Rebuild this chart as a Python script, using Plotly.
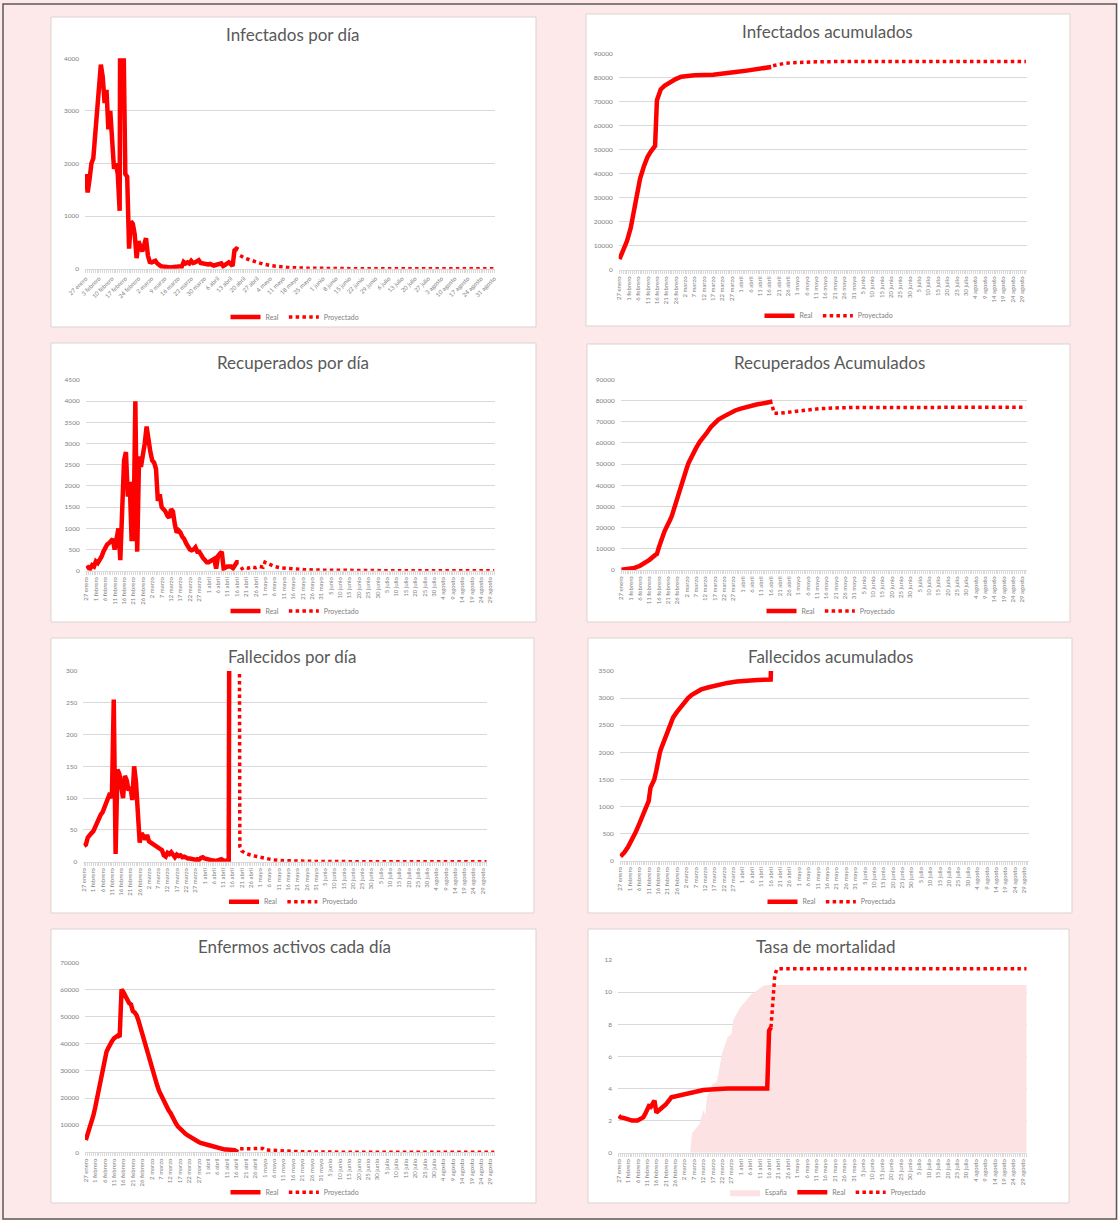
import plotly.graph_objects as go
from datetime import datetime, timedelta

W, H = 1118, 1220
INICIO = datetime(2020, 1, 27)
MESES = {"enero": 1, "febrero": 2, "marzo": 3, "abril": 4, "mayo": 5,
         "junio": 6, "julio": 7, "agosto": 8}

# ---------------- tick labels ----------------
etiquetas_semanales = ["27 enero", "3 febrero", "10 febrero", "17 febrero", "24 febrero",
                       "2 marzo", "9 marzo", "16 marzo", "23 marzo", "30 marzo", "6 abril",
                       "13 abril", "20 abril", "27 abril", "4 mayo", "11 mayo", "18 mayo",
                       "25 mayo", "1 junio", "8 junio", "15 junio", "22 junio", "29 junio",
                       "6 julio", "13 julio", "20 julio", "27 julio", "3 agosto", "10 agosto",
                       "17 agosto", "24 agosto", "31 agosto"]
etiquetas_5dias = ["27 enero", "1 febrero", "6 febrero", "11 febrero", "16 febrero",
                   "21 febrero", "26 febrero", "2 marzo", "7 marzo", "12 marzo", "17 marzo",
                   "22 marzo", "27 marzo", "1 abril", "6 abril", "11 abril", "16 abril",
                   "21 abril", "26 abril", "1 mayo", "6 mayo", "11 mayo", "16 mayo", "21 mayo",
                   "26 mayo", "31 mayo", "5 junio", "10 junio", "15 junio", "20 junio",
                   "25 junio", "30 junio", "5 julio", "10 julio", "15 julio", "20 julio",
                   "25 julio", "30 julio", "4 agosto", "9 agosto", "14 agosto", "19 agosto",
                   "24 agosto", "29 agosto"]

# ---------------- data (day offsets from 27 enero) ----------------
# Infectados por día
inf_dia_real = [1800, 1450, 1700, 2000, 2100, 2600, 2850, 3300, 3880, 3650, 3150, 3400, 2650,
                3000, 2500, 1900, 2000, 1800, 1100, 14500, 4500, 1800, 1750, 380, 900, 850, 650,
                200, 520, 430, 330, 450, 580, 250, 130, 120, 140, 150, 100, 60, 45, 40, 30, 35,
                30, 25, 35, 40, 35, 40, 45, 40, 130, 100, 120, 100, 150, 110, 120, 130, 160, 110,
                100, 100, 90, 80, 90, 70, 60, 70, 80, 90, 100, 50, 80, 110, 120, 90, 50, 350, 380,
                360]
inf_dia_proy_dias = [82, 84, 87, 90, 94, 98, 102, 107, 114, 121, 130, 140, 160, 217]
inf_dia_proy = [250, 210, 170, 130, 90, 60, 40, 25, 12, 6, 3, 1, 0, 0]

# Infectados acumulados
inf_acum_real_dias = [0, 2, 4, 6, 8, 9, 11, 13, 15, 17, 19, 20, 21, 22, 24, 26, 28, 30, 33, 36,
                      40, 50, 56, 62, 68, 74, 78, 81]
inf_acum_real = [4500, 8000, 12000, 17500, 25000, 30500, 38000, 43000, 47000, 49500, 51500,
                 70500, 73500, 75000, 76500, 77500, 78500, 79300, 80300, 80700, 80900, 81100,
                 81500, 82200, 82800, 83300, 83700, 84300]
inf_acum_proy_dias = [82, 85, 88, 92, 97, 105, 115, 217]
inf_acum_proy = [84800, 85400, 85800, 86100, 86300, 86450, 86550, 86600]

# Recuperados por día
rec_dia_real = [50, 80, 50, 130, 100, 220, 180, 250, 330, 450, 550, 620, 650, 700, 750, 500,
                780, 1000, 250, 1800, 2600, 2800, 1750, 2100, 750, 750, 4000, 450, 2700, 2450,
                2700, 3000, 3400, 3000, 2800, 2600, 2550, 2400, 1650, 1800, 1500, 1450, 1400,
                1300, 1250, 1450, 1400, 1100, 900, 950, 900, 800, 750, 650, 550, 500, 480, 500,
                550, 450, 450, 350, 300, 250, 200, 200, 230, 230, 280, 50, 350, 400, 450, 50, 80,
                100, 100, 100, 60, 150, 200, 200]
rec_dia_proy_dias = [82, 84, 86, 88, 90, 92, 94, 95, 96, 98, 100, 103, 107, 111, 116, 122, 130,
                     140, 160, 217]
rec_dia_proy = [30, 80, 60, 90, 70, 100, 80, 200, 180, 130, 100, 70, 50, 35, 25, 15, 8, 3, 0, 0]

# Recuperados acumulados
rec_acum_real_dias = [0, 4, 7, 10, 13, 15, 18, 19, 20, 21, 22, 23, 24, 25, 26, 27, 28, 29, 30,
                      31, 32, 33, 34, 35, 36, 37, 38, 40, 42, 44, 46, 48, 50, 52, 55, 58, 61, 64,
                      67, 70, 73, 77, 81]
rec_acum_real = [100, 400, 1000, 2000, 3600, 4800, 7000, 7500, 10500, 13500, 16000, 18000,
                 20000, 22500, 23500, 25500, 28500, 31000, 34000, 37500, 40500, 43000, 45500,
                 48000, 50500, 52500, 54500, 57500, 60500, 62500, 65000, 67500, 69500, 71000,
                 72500, 74000, 75300, 76200, 77000, 77500, 78200, 78800, 79500]
rec_acum_proy_dias = [81, 82, 85, 88, 92, 96, 100, 106, 115, 125, 217]
rec_acum_proy = [77000, 74000, 74000, 74300, 74800, 75300, 75700, 76100, 76500, 76700, 76800]

# Fallecidos por día
fal_dia_real = [25, 27, 38, 43, 45, 48, 55, 63, 68, 74, 78, 86, 90, 100, 108, 100, 255, 12, 145,
                138, 118, 100, 135, 128, 112, 118, 97, 150, 125, 60, 30, 45, 40, 35, 42, 32, 30,
                28, 27, 24, 22, 20, 18, 10, 8, 14, 12, 15, 10, 7, 11, 9, 10, 7, 8, 6, 5, 5, 4, 4,
                3, 4, 3, 6, 7, 5, 4, 3, 2, 2, 2, 1, 2, 3, 4, 2, 2, 1, 1, 1290]
fal_dia_proy_dias = [83, 84, 85, 87, 91, 95, 98, 102, 106, 112, 125, 150, 217]
fal_dia_proy = [1290, 24, 17, 13, 9.5, 7, 4.5, 2.8, 1.7, 1, 0.4, 0, 0]

# Fallecidos acumulados
fal_acum_real_dias = [0, 2, 4, 6, 8, 10, 12, 14, 15, 16, 17, 18, 19, 20, 21, 22, 24, 26, 28, 30,
                      32, 34, 36, 38, 40, 43, 47, 52, 57, 62, 68, 73, 80, 81]
fal_acum_real = [80, 150, 250, 370, 520, 680, 850, 1000, 1100, 1350, 1420, 1500, 1650, 1850,
                 2000, 2100, 2300, 2480, 2640, 2740, 2830, 2920, 3000, 3060, 3110, 3160, 3200,
                 3245, 3280, 3305, 3325, 3335, 3342, 4630]
fal_acum_proy_dias = [82, 90, 120, 217]
fal_acum_proy = [4640, 4660, 4690, 4700]

# Enfermos activos
act_real = [4500, 6500, 8500, 11000, 13500, 16500, 20000, 24500, 28500, 32000, 35000, 37000,
            38500, 40000, 41000, 42000, 42500, 43000, 42500, 60000, 59000, 57500, 56000, 55000,
            54500, 52000, 51500, 50500, 48500, 46000, 43500, 41000, 38000, 35500, 33000, 30500,
            28000, 26000, 24500, 22500, 21000, 19500, 18000, 17000, 15500, 14500, 13000, 11500,
            10500, 9500, 8700, 8000, 7300, 6800, 6300, 5800, 5400, 5000, 4600, 4200, 3800, 3500,
            3200, 3000, 2900, 2700, 2500, 2300, 2200, 2000, 1800, 1400, 1100, 1000, 1000, 1000,
            1000, 1000, 950, 800, 400, 100]
act_proy_dias = [82, 85, 88, 91, 94, 95, 97, 100, 104, 108, 114, 122, 132, 150, 217]
act_proy = [1300, 1400, 1450, 1450, 1400, 900, 800, 600, 400, 300, 200, 100, 50, 10, 0]

# Tasa de mortalidad
esp_dias = [38, 39, 41, 43, 45, 46, 47, 49, 50, 52, 53, 55, 57, 58, 60, 61, 63, 65, 68, 70, 73,
            76, 77, 79, 217]
esp_tasa = [0, 1.2, 1.5, 1.8, 2.65, 2.35, 3.5, 4.1, 4.3, 4.4, 4.9, 6.2, 6.8, 7.2, 7.4, 8.3, 8.7,
            9.1, 9.5, 9.8, 10.05, 10.3, 10.4, 10.45, 10.45]
tasa_real_dias = [0, 1, 3, 5, 7, 10, 12, 13, 14, 15, 16, 17, 18, 19, 20, 22, 25, 28, 32, 36, 40,
                  45, 51, 58, 79, 80, 81]
tasa_real = [2.3, 2.2, 2.15, 2.1, 2.0, 2.0, 2.1, 2.2, 2.4, 2.6, 2.9, 2.85, 3.1, 3.25, 2.5, 2.7,
             3.0, 3.45, 3.55, 3.7, 3.8, 3.9, 3.95, 4.0, 4.0, 7.6, 7.8]
tasa_proy_dias = [81, 82, 83, 84, 85, 217]
tasa_proy = [7.8, 9.8, 11.0, 11.4, 11.45, 11.45]


# ---------------- helpers ----------------
def fecha(d):
    return INICIO + timedelta(days=d)


def parse(lbl):
    dd, mm = lbl.split()
    return datetime(2020, MESES[mm], int(dd))


def real(nombre, valores, dias=None):
    if dias is None:
        dias = list(range(len(valores)))
    return dict(kind="real", name=nombre, x=[fecha(d) for d in dias], y=valores)


def proy(nombre, dias, valores):
    return dict(kind="proy", name=nombre, x=[fecha(d) for d in dias], y=valores)


def area(nombre, dias, valores):
    return dict(kind="area", name=nombre, x=[fecha(d) for d in dias], y=valores)


paneles = [
    dict(titulo="Infectados por día", caja=(51, 17, 536, 327), plot=(85, 58.3, 495, 268.7),
         tit=(293, 35), ley=(295, 317), ymax=4000, dtick=1000,
         etiq=etiquetas_semanales, ang=-45,
         series=[real("Real", inf_dia_real), proy("Proyectado", inf_dia_proy_dias, inf_dia_proy)]),
    dict(titulo="Infectados acumulados", caja=(586, 14, 1070, 326), plot=(618.7, 53.3, 1026.7, 270),
         tit=(827, 31.5), ley=(829, 315.7), ymax=90000, dtick=10000,
         etiq=etiquetas_5dias, ang=-90,
         series=[real("Real", inf_acum_real, inf_acum_real_dias),
                 proy("Proyectado", inf_acum_proy_dias, inf_acum_proy)]),
    dict(titulo="Recuperados por día", caja=(51, 343, 536, 622), plot=(85.7, 380, 495, 570.7),
         tit=(293, 362.5), ley=(295, 611), ymax=4500, dtick=500,
         etiq=etiquetas_5dias, ang=-90,
         series=[real("Real", rec_dia_real), proy("Proyectado", rec_dia_proy_dias, rec_dia_proy)]),
    dict(titulo="Recuperados Acumulados", caja=(587, 344, 1070, 622), plot=(620.7, 379.3, 1026.7, 570),
         tit=(829, 362.5), ley=(831, 611), ymax=90000, dtick=10000,
         etiq=etiquetas_5dias, ang=-90,
         series=[real("Real", rec_acum_real, rec_acum_real_dias),
                 proy("Proyectado", rec_acum_proy_dias, rec_acum_proy)]),
    dict(titulo="Fallecidos por día", caja=(51, 638, 534, 913), plot=(83.3, 671, 487.3, 861.7),
         tit=(292, 656), ley=(293.5, 901.7), ymax=300, dtick=50,
         etiq=etiquetas_5dias, ang=-90,
         series=[real("Real", fal_dia_real), proy("Proyectado", fal_dia_proy_dias, fal_dia_proy)]),
    dict(titulo="Fallecidos acumulados", caja=(588, 638, 1072, 913), plot=(619.7, 671, 1028.7, 860.7),
         tit=(830, 656), ley=(832, 901.7), ymax=3500, dtick=500,
         etiq=etiquetas_5dias, ang=-90,
         series=[real("Real", fal_acum_real, fal_acum_real_dias),
                 proy("Proyectada", fal_acum_proy_dias, fal_acum_proy)]),
    dict(titulo="Enfermos activos cada día", caja=(51, 929, 536, 1203), plot=(85, 962.3, 495, 1152.3),
         tit=(294, 946.7), ley=(295, 1192.3), ymax=70000, dtick=10000,
         etiq=etiquetas_5dias, ang=-90,
         series=[real("Real", act_real), proy("Proyectado", act_proy_dias, act_proy)]),
    dict(titulo="Tasa de mortalidad", caja=(588, 929, 1069, 1203), plot=(618, 960, 1027.3, 1152.7),
         tit=(826, 946.7), ley=(828, 1192.3), ymax=12, dtick=2,
         etiq=etiquetas_5dias, ang=-90,
         series=[area("España", esp_dias, esp_tasa), real("Real", tasa_real, tasa_real_dias),
                 proy("Proyectado", tasa_proy_dias, tasa_proy)]),
]

ROJO = "#ff0000"
GRIS_TXT = "#595959"
GRIS_EJE = "#808080"
GRID = "#d9d9d9"
FONDO = "#fde9e9"

fig = go.Figure()
layout = dict(width=W, height=H, margin=dict(l=0, r=0, t=0, b=0, pad=0, autoexpand=False),
              autosize=False,
              paper_bgcolor=FONDO, plot_bgcolor="white",
              font=dict(family="Lato, 'Open Sans', sans-serif", color=GRIS_TXT),
              shapes=[], annotations=[])

layout["shapes"].append(dict(type="rect", xref="paper", yref="paper",
                             x0=3 / W, x1=1116.5 / W, y0=1 - 1219 / H, y1=1 - 4 / H,
                             line=dict(color="#595959", width=1.5), fillcolor="rgba(0,0,0,0)",
                             layer="above"))

for i, p in enumerate(paneles, start=1):
    sx = "" if i == 1 else str(i)
    xk, yk = "x" + sx, "y" + sx
    lk = "legend" + sx
    bx0, by0, bx1, by1 = p["caja"]
    layout["shapes"].append(dict(type="rect", xref="paper", yref="paper",
                                 x0=bx0 / W, x1=bx1 / W, y0=1 - by1 / H, y1=1 - by0 / H,
                                 line=dict(color="#ddd3d3", width=1), fillcolor="white",
                                 layer="below"))
    px0, py0, px1, py1 = p["plot"]
    layout["xaxis" + sx] = dict(
        domain=[px0 / W, px1 / W], anchor=yk, type="date", automargin=False,
        range=[datetime(2020, 1, 26, 14), datetime(2020, 8, 31, 10)],
        tickmode="array", tickvals=[parse(l) for l in p["etiq"]], ticktext=p["etiq"],
        tickangle=p["ang"], tickfont=dict(size=6, color=GRIS_EJE),
        showgrid=False, zeroline=False, showline=True, linecolor=GRID, linewidth=1,
        ticks="outside", ticklen=3, tickcolor=GRID, tickwidth=1,
        minor=dict(dtick=86400000, tick0="2020-01-27", ticks="outside", ticklen=3,
                   tickcolor=GRID, tickwidth=0.6, showgrid=False),
        fixedrange=True)
    layout["yaxis" + sx] = dict(
        domain=[1 - py1 / H, 1 - py0 / H], anchor=xk, range=[0, p["ymax"]], automargin=False,
        tick0=0, dtick=p["dtick"], tickformat="d", tickfont=dict(size=6.5, color=GRIS_EJE),
        gridcolor=GRID, gridwidth=1, showline=False, zeroline=False, ticks="",
        ticklabelstandoff=5, fixedrange=True)
    tx, ty = p["tit"]
    layout["annotations"].append(dict(text=p["titulo"], xref="paper", yref="paper",
                                      x=tx / W, y=1 - ty / H, xanchor="center", yanchor="middle",
                                      showarrow=False, font=dict(size=17, color=GRIS_TXT)))
    lx, ly = p["ley"]
    layout[lk] = dict(orientation="h", x=lx / W, y=1 - ly / H, xanchor="center",
                      yanchor="middle", xref="container", yref="container",
                      font=dict(size=7, color=GRIS_EJE),
                      bgcolor="rgba(0,0,0,0)", itemwidth=30, tracegroupgap=0,
                      traceorder="normal")
    for s in p["series"]:
        if s["kind"] == "area":
            fig.add_trace(go.Scatter(x=s["x"], y=s["y"], name=s["name"], mode="lines",
                                     fill="tozeroy", fillcolor="#fce2e2",
                                     line=dict(width=0, color="#fce2e2"),
                                     xaxis=xk, yaxis=yk, legend=lk, hoverinfo="skip"))
        elif s["kind"] == "real":
            fig.add_trace(go.Scatter(x=s["x"], y=s["y"], name=s["name"], mode="lines",
                                     line=dict(width=4.5, color=ROJO),
                                     xaxis=xk, yaxis=yk, legend=lk, hoverinfo="skip"))
        else:
            fig.add_trace(go.Scatter(x=s["x"], y=s["y"], name=s["name"], mode="lines",
                                     line=dict(width=3.5, color=ROJO, dash="3.5px,3.3px"),
                                     xaxis=xk, yaxis=yk, legend=lk, hoverinfo="skip"))

fig.update_layout(**layout)
fig.write_html("out.html",
               config={"displayModeBar": False},
               post_script="document.body.style.margin='0';"
                           "document.body.style.background='" + FONDO + "';")
